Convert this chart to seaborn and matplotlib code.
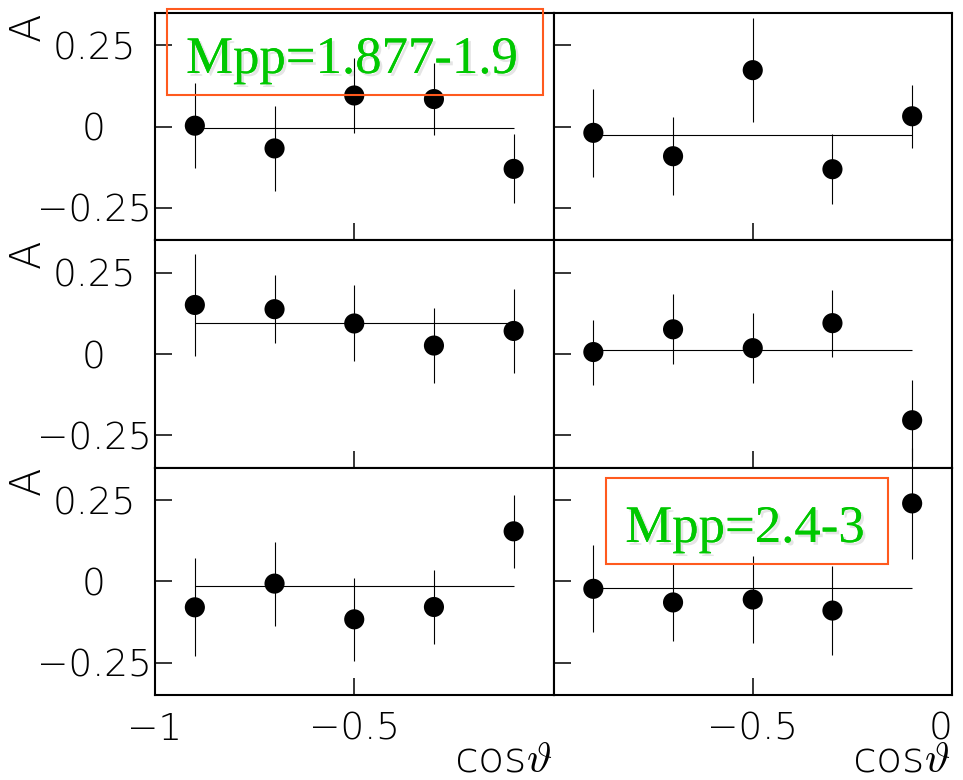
import matplotlib
matplotlib.use("Agg")
import matplotlib.pyplot as plt
import matplotlib.patheffects as pe
from matplotlib import font_manager as fm
from matplotlib.patches import Rectangle
import pandas as pd
import seaborn as sns

# cos(theta) bin centres shared by every panel
cos_bins = [-0.9, -0.7, -0.5, -0.3, -0.1]

# asymmetry A and its uncertainty, one pair of lists per panel
asym_top_left = [0.003, -0.067, 0.096, 0.085, -0.130]
err_top_left = [0.130, 0.130, 0.116, 0.111, 0.106]
asym_top_right = [-0.019, -0.091, 0.174, -0.131, 0.032]
err_top_right = [0.135, 0.120, 0.161, 0.107, 0.097]
asym_mid_left = [0.151, 0.138, 0.094, 0.026, 0.071]
err_mid_left = [0.156, 0.105, 0.117, 0.115, 0.128]
asym_mid_right = [0.006, 0.076, 0.018, 0.095, -0.204]
err_mid_right = [0.100, 0.108, 0.108, 0.103, 0.125]
asym_bot_left = [-0.080, -0.007, -0.117, -0.079, 0.154]
err_bot_left = [0.151, 0.129, 0.127, 0.115, 0.113]
asym_bot_right = [-0.023, -0.065, -0.056, -0.090, 0.240]
err_bot_right = [0.134, 0.120, 0.133, 0.138, 0.172]

# constant fit level of each panel
fit_levels = [[-0.004, -0.025], [0.094, 0.011], [-0.015, -0.020]]

mass_labels = ["Mpp=1.877-1.9", "Mpp=2.4-3"]

y_ticks = [-0.25, 0, 0.25]
y_tick_labels = ["\u22120.25", "0", "0.25"]
x_ticks = [-1, -0.5, 0]
x_tick_labels_left = ["\u22121", "\u22120.5", ""]
x_tick_labels_right = ["", "\u22120.5", "0"]
x_title = "cos$\\vartheta$"
y_title = "A"

panels = [
    [(asym_top_left, err_top_left), (asym_top_right, err_top_right)],
    [(asym_mid_left, err_mid_left), (asym_mid_right, err_mid_right)],
    [(asym_bot_left, err_bot_left), (asym_bot_right, err_bot_right)],
]

sns.set_theme(style="white")


def pick_light_font():
    for fam in ["DejaVu Sans", "Lato", "Roboto", "Open Sans", "Inter", "Noto Sans"]:
        best = None
        for f in fm.fontManager.ttflist:
            if f.name != fam or f.style != "normal":
                continue
            w = f.weight
            if isinstance(w, str):
                w = fm.weight_dict.get(w, 400)
            if w < 400 and (best is None or abs(w - 250) < abs(best - 250)):
                best = w
        if best is not None:
            return fam, best
    return "DejaVu Sans", 400


light_family, light_weight = pick_light_font()
plt.rcParams["font.family"] = [light_family, "DejaVu Sans"]
plt.rcParams["font.weight"] = light_weight

W, H = 963, 780
fig = plt.figure(figsize=(W / 100, H / 100), dpi=100)
fig.patch.set_facecolor("white")
gs = fig.add_gridspec(3, 2, left=155 / W, right=952 / W,
                      top=1 - 13 / H, bottom=1 - 695 / H,
                      hspace=0, wspace=0)

row_tops = [13, 240, 467]

for r in range(3):
    for c in range(2):
        ax = fig.add_subplot(gs[r, c])
        vals, errs = panels[r][c]
        df = pd.DataFrame({"cos": cos_bins, "A": vals, "err": errs})

        ax.hlines(fit_levels[r][c], cos_bins[0], cos_bins[-1],
                  color="black", lw=0.8, zorder=2)
        eb = ax.errorbar(df["cos"], df["A"], yerr=df["err"], fmt="none",
                         ecolor="black", elinewidth=0.8, capsize=0, zorder=2)
        for lc in eb.lines[2]:
            lc.set_clip_on(False)
        sns.scatterplot(data=df, x="cos", y="A", ax=ax, color="black",
                        s=210, edgecolor="none", zorder=3, legend=False,
                        clip_on=False)

        ax.set_xlim(-1, 0)
        ax.set_ylim(-0.35, 0.35)
        ax.set_xlabel("")
        ax.set_ylabel("")
        ax.set_facecolor("white")
        for sp in ax.spines.values():
            sp.set_visible(True)
            sp.set_color("black")
            sp.set_linewidth(1.5)

        ax.set_yticks(y_ticks)
        ax.set_xticks(x_ticks)
        ax.set_yticklabels(y_tick_labels)
        ax.set_xticklabels(x_tick_labels_left if c == 0 else x_tick_labels_right)
        ax.tick_params(axis="y", direction="in", length=12, width=1.1,
                       left=True, right=False, labelleft=(c == 0),
                       pad=44, labelsize=27, colors="black")
        ax.tick_params(axis="x", direction="in", length=12, width=1.1,
                       bottom=True, top=False, labelbottom=(r == 2),
                       pad=12, labelsize=27, colors="black")
        for t in ax.get_yticklabels():
            t.set_ha("center")
        if c == 1:
            xl = ax.get_xticklabels()
            if len(xl):
                xl[-1].set_ha("right")

    fig.text(27 / W, 1 - (row_tops[r] + 14) / H, y_title, rotation=90,
             ha="center", va="center", fontsize=30, color="black")

# axis titles under the right end of each column
for right_px in (552, 950):
    fig.text(right_px / W, 1 - 772 / H, x_title, ha="right", va="baseline",
             fontsize=31, color="black", math_fontfamily="cm")

shadow = [pe.withSimplePatchShadow(offset=(2, -2), shadow_rgbFace="#8a8a8a",
                                   alpha=0.22), pe.Normal()]

# mass-range boxes: (left, top, width, height) in pixels, text centre x, baseline y
boxes = [(167, 9, 376, 86, 352, 73), (606, 478, 282, 86, 745, 542)]
for (bx, by, bw, bh, tx, ty), label in zip(boxes, mass_labels):
    fig.add_artist(Rectangle((bx / W, 1 - (by + bh) / H), bw / W, bh / H,
                             transform=fig.transFigure, fill=False,
                             edgecolor="#ff5a1e", lw=1.5, zorder=5))
    fig.text(tx / W, 1 - ty / H, label, ha="center", va="baseline",
             family="Liberation Serif", weight="normal", fontsize=38,
             color="#00c800", path_effects=shadow, zorder=6)

fig.savefig("out.png", dpi=100, facecolor="white")
